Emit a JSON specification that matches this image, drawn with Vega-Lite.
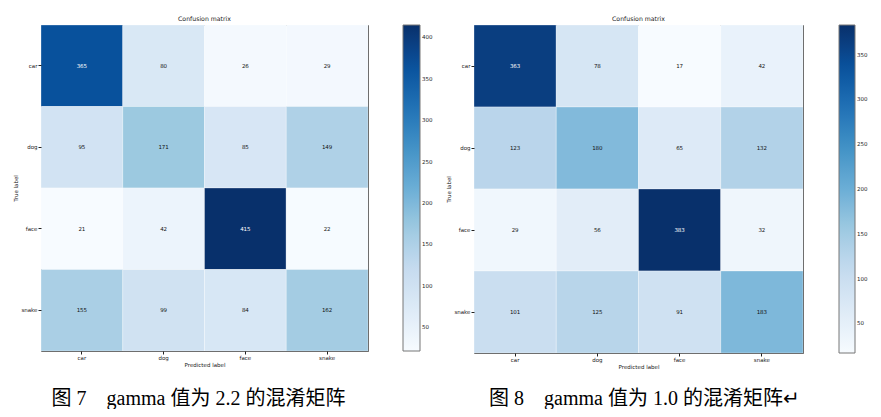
{
  "$schema": "https://vega.github.io/schema/vega-lite/v6.json",
  "background": "white",
  "padding": {"left": 13, "top": 15, "right": 0, "bottom": 0},
  "config": {
    "view": {"stroke": "#555", "strokeWidth": 1},
    "axis": {"labelFont": "DejaVu Sans", "labelFontSize": 5.5, "titleFont": "DejaVu Sans", "titleFontSize": 5.5, "titleFontWeight": "normal", "labelColor": "#222", "titleColor": "#222", "tickColor": "#222", "tickSize": 3, "domain": false, "grid": false, "labelAngle": 0, "labelPadding": 1},
    "axisY": {"titlePadding": 2},
    "axisX": {"titlePadding": 2},
    "title": {"font": "DejaVu Sans", "fontSize": 6.2, "fontWeight": "normal", "color": "#222", "offset": 3},
    "legend": {"gradientLength": 326, "gradientThickness": 17, "gradientStrokeColor": "#777", "gradientStrokeWidth": 1, "labelFont": "DejaVu Sans", "labelFontSize": 5.5, "labelColor": "#222", "labelOffset": 4, "labelOverlap": false}
  },
  "datasets": {
    "g22": [
      {"true": "car", "pred": "car", "v": 365}, {"true": "car", "pred": "dog", "v": 80}, {"true": "car", "pred": "face", "v": 26}, {"true": "car", "pred": "snake", "v": 29},
      {"true": "dog", "pred": "car", "v": 95}, {"true": "dog", "pred": "dog", "v": 171}, {"true": "dog", "pred": "face", "v": 85}, {"true": "dog", "pred": "snake", "v": 149},
      {"true": "face", "pred": "car", "v": 21}, {"true": "face", "pred": "dog", "v": 42}, {"true": "face", "pred": "face", "v": 415}, {"true": "face", "pred": "snake", "v": 22},
      {"true": "snake", "pred": "car", "v": 155}, {"true": "snake", "pred": "dog", "v": 99}, {"true": "snake", "pred": "face", "v": 84}, {"true": "snake", "pred": "snake", "v": 162}
    ],
    "g10": [
      {"true": "car", "pred": "car", "v": 363}, {"true": "car", "pred": "dog", "v": 78}, {"true": "car", "pred": "face", "v": 17}, {"true": "car", "pred": "snake", "v": 42},
      {"true": "dog", "pred": "car", "v": 123}, {"true": "dog", "pred": "dog", "v": 180}, {"true": "dog", "pred": "face", "v": 65}, {"true": "dog", "pred": "snake", "v": 132},
      {"true": "face", "pred": "car", "v": 29}, {"true": "face", "pred": "dog", "v": 56}, {"true": "face", "pred": "face", "v": 383}, {"true": "face", "pred": "snake", "v": 32},
      {"true": "snake", "pred": "car", "v": 101}, {"true": "snake", "pred": "dog", "v": 125}, {"true": "snake", "pred": "face", "v": 91}, {"true": "snake", "pred": "snake", "v": 183}
    ]
  },
  "spacing": 12,
  "resolve": {"scale": {"color": "independent"}, "legend": {"color": "independent"}},
  "hconcat": [
    {
      "title": {"text": "图 7\u00a0\u00a0\u00a0\u00a0gamma 值为 2.2 的混淆矩阵", "orient": "bottom", "anchor": "middle", "font": "Liberation Serif, Noto Sans CJK SC", "fontSize": 20, "color": "#000", "offset": 20, "dx": -25},
      "resolve": {"scale": {"color": "independent"}, "legend": {"color": "independent"}},
      "vconcat": [
        {
          "title": "Confusion matrix",
          "width": 327,
          "height": 326,
          "data": {"name": "g22"},
          "encoding": {
            "x": {"field": "pred", "type": "nominal", "sort": ["car", "dog", "face", "snake"], "title": "Predicted label", "axis": {"orient": "bottom"}},
            "y": {"field": "true", "type": "nominal", "sort": ["car", "dog", "face", "snake"], "title": "True label"}
          },
          "layer": [
            {
              "mark": {"type": "rect", "stroke": "white", "strokeWidth": 0.5, "strokeOpacity": 0.6},
              "encoding": {
                "color": {"field": "v", "type": "quantitative", "scale": {"zero": false, "nice": false, "range": ["#f7fbff", "#deebf7", "#c6dbef", "#9ecae1", "#6baed6", "#4292c6", "#2171b5", "#08519c", "#08306b"]},
                  "legend": {"title": null, "orient": "none", "legendX": 362, "legendY": 0, "direction": "vertical", "values": [50, 100, 150, 200, 250, 300, 350, 400]}}
              }
            },
            {
              "mark": {"type": "text", "font": "DejaVu Sans", "fontSize": 5.5, "baseline": "middle"},
              "encoding": {
                "text": {"field": "v", "type": "quantitative"},
                "color": {"condition": {"test": "datum.v > 207.5", "value": "white"}, "value": "#111"}
              }
            }
          ]
        }
      ]
    },
    {
      "title": {"text": "图 8\u00a0\u00a0\u00a0\u00a0gamma 值为 1.0 的混淆矩阵↵", "orient": "bottom", "anchor": "middle", "font": "Liberation Serif, Noto Sans CJK SC", "fontSize": 20, "color": "#000", "offset": 18, "dx": -13},
      "resolve": {"scale": {"color": "independent"}, "legend": {"color": "independent"}},
      "vconcat": [
        {
          "title": "Confusion matrix",
          "width": 329,
          "height": 328,
          "data": {"name": "g10"},
          "encoding": {
            "x": {"field": "pred", "type": "nominal", "sort": ["car", "dog", "face", "snake"], "title": "Predicted label", "axis": {"orient": "bottom"}},
            "y": {"field": "true", "type": "nominal", "sort": ["car", "dog", "face", "snake"], "title": "True label"}
          },
          "layer": [
            {
              "mark": {"type": "rect", "stroke": "white", "strokeWidth": 0.5, "strokeOpacity": 0.6},
              "encoding": {
                "color": {"field": "v", "type": "quantitative", "scale": {"zero": false, "nice": false, "range": ["#f7fbff", "#deebf7", "#c6dbef", "#9ecae1", "#6baed6", "#4292c6", "#2171b5", "#08519c", "#08306b"]},
                  "legend": {"title": null, "orient": "none", "legendX": 365, "legendY": 0, "direction": "vertical", "gradientLength": 328, "gradientThickness": 16, "values": [50, 100, 150, 200, 250, 300, 350]}}
              }
            },
            {
              "mark": {"type": "text", "font": "DejaVu Sans", "fontSize": 5.5, "baseline": "middle"},
              "encoding": {
                "text": {"field": "v", "type": "quantitative"},
                "color": {"condition": {"test": "datum.v > 191.5", "value": "white"}, "value": "#111"}
              }
            }
          ]
        }
      ]
    }
  ]
}
